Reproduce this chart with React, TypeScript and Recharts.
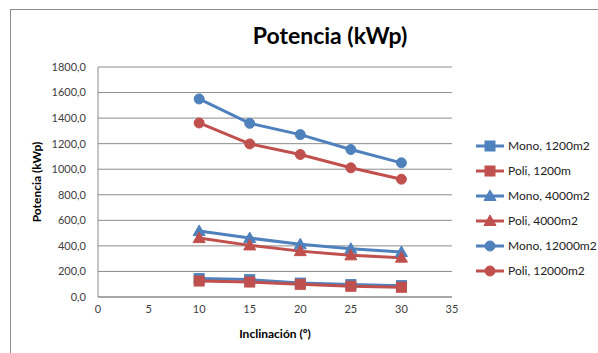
import React from "react";
import {
  CartesianGrid,
  Label,
  Line,
  LineChart,
  XAxis,
  YAxis,
} from "recharts";

const inclinacion = [10, 15, 20, 25, 30];
const mono1200 = [144, 136, 109, 97, 89];
const poli1200 = [125, 117, 99, 84, 76];
const mono4000 = [516, 461, 412, 378, 352];
const poli4000 = [461, 404, 359, 326, 308];
const mono12000 = [1550, 1359, 1271, 1154, 1050];
const poli12000 = [1362, 1198, 1115, 1011, 922];

const xTicks = [0, 5, 10, 15, 20, 25, 30, 35];
const yTicks = [0, 200, 400, 600, 800, 1000, 1200, 1400, 1600, 1800];

const BLUE = "#4F81BD";
const RED = "#C0504D";
const FONT = "Lato, 'Open Sans', sans-serif";

type Shape = "square" | "triangle" | "circle";

const series: { key: string; name: string; color: string; shape: Shape }[] = [
  { key: "m1200", name: "Mono, 1200m2", color: BLUE, shape: "square" },
  { key: "p1200", name: "Poli, 1200m", color: RED, shape: "square" },
  { key: "m4000", name: "Mono, 4000m2", color: BLUE, shape: "triangle" },
  { key: "p4000", name: "Poli, 4000m2", color: RED, shape: "triangle" },
  { key: "m12000", name: "Mono, 12000m2", color: BLUE, shape: "circle" },
  { key: "p12000", name: "Poli, 12000m2", color: RED, shape: "circle" },
];

const data = inclinacion.map((x, i) => ({
  x,
  m1200: mono1200[i],
  p1200: poli1200[i],
  m4000: mono4000[i],
  p4000: poli4000[i],
  m12000: mono12000[i],
  p12000: poli12000[i],
}));

function Marker({ cx, cy, shape, color }: { cx: number; cy: number; shape: Shape; color: string }) {
  if (shape === "square") {
    return <rect x={cx - 5} y={cy - 5} width={10} height={10} fill={color} stroke={color} strokeWidth={1} />;
  }
  if (shape === "triangle") {
    return (
      <polygon
        points={`${cx},${cy - 6} ${cx + 6},${cy + 4.5} ${cx - 6},${cy + 4.5}`}
        fill={color}
        stroke={color}
        strokeWidth={1}
      />
    );
  }
  return <circle cx={cx} cy={cy} r={5} fill={color} stroke={color} strokeWidth={1} />;
}

// legend drawn outside the chart so it does not shrink the plot area
function SeriesLegend() {
  return (
    <div
      style={{
        position: "absolute",
        left: 476,
        top: 133,
        fontFamily: FONT,
        fontSize: 12,
        color: "#222",
      }}
    >
      {series.map((s) => (
        <div key={s.key} style={{ display: "flex", alignItems: "center", height: 25 }}>
          <svg width={30} height={12}>
            <line x1={0} y1={6} x2={28} y2={6} stroke={s.color} strokeWidth={3} />
            <Marker cx={14} cy={6} shape={s.shape} color={s.color} />
          </svg>
          <span style={{ marginLeft: 2, whiteSpace: "nowrap" }}>{s.name}</span>
        </div>
      ))}
    </div>
  );
}

const fmt = (v: number) => v.toFixed(1).replace(".", ",");

export default function App() {
  return (
    <div style={{ position: "relative", width: 598, height: 353, overflow: "hidden", background: "#fff" }}>
      <style>{`body{margin:0}`}</style>
      <div
        style={{
          position: "absolute",
          left: 10,
          top: 9,
          width: 620,
          height: 380,
          border: "1px solid #8a8a8a",
        }}
      />
      <div
        style={{
          position: "absolute",
          left: 230,
          width: 200,
          top: 21,
          textAlign: "center",
          fontFamily: FONT,
          fontWeight: 700,
          fontSize: 23,
          color: "#000",
        }}
      >
        Potencia (kWp)
      </div>
      <div style={{ position: "absolute", left: 0, top: 0 }}>
        <LineChart
          width={598}
          height={353}
          data={data}
          margin={{ top: 67, right: 146, bottom: 26, left: 10 }}
        >
          <CartesianGrid vertical={false} stroke="#8c8c8c" />
          <XAxis
            dataKey="x"
            type="number"
            domain={[0, 35]}
            ticks={xTicks}
            height={30}
            tickLine={false}
            axisLine={{ stroke: "#8c8c8c" }}
            tick={{ fill: "#404040", fontSize: 11, fontFamily: FONT }}
          >
            <Label
              value="Inclinación (º)"
              position="bottom"
              offset={2}
              style={{ fontFamily: FONT, fontWeight: 700, fontSize: 12, fill: "#000" }}
            />
          </XAxis>
          <YAxis
            type="number"
            domain={[0, 1800]}
            ticks={yTicks}
            width={88}
            tickLine={false}
            tickMargin={6}
            tickFormatter={fmt}
            axisLine={{ stroke: "#8c8c8c" }}
            tick={{ fill: "#404040", fontSize: 11, fontFamily: FONT }}
          >
            <Label
              value="Potencia (kWp)"
              position="center"
              angle={-90}
              dx={-17}
              style={{ fontFamily: FONT, fontWeight: 700, fontSize: 12, fill: "#000" }}
            />
          </YAxis>
          {series.map((s) => (
            <Line
              key={s.key}
              dataKey={s.key}
              name={s.name}
              stroke={s.color}
              strokeWidth={3}
              isAnimationActive={false}
              dot={(p: any) => (
                <Marker key={`${s.key}-${p.index}`} cx={p.cx} cy={p.cy} shape={s.shape} color={s.color} />
              )}
              activeDot={false}
            />
          ))}
        </LineChart>
      </div>
      <SeriesLegend />
    </div>
  );
}
